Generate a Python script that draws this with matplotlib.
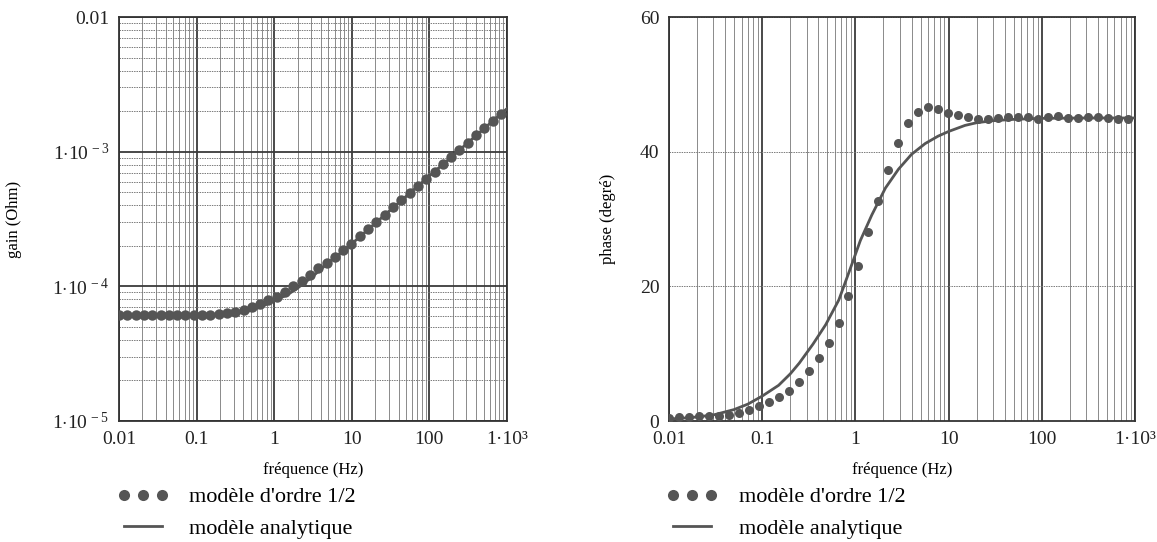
import numpy as np
import matplotlib
matplotlib.use("Agg")
import matplotlib.pyplot as plt
from matplotlib.ticker import FixedLocator, NullFormatter

plt.rcParams['font.family'] = ['Liberation Serif', 'DejaVu Serif']
plt.rcParams['mathtext.fontset'] = 'custom'
plt.rcParams['mathtext.rm'] = 'Liberation Serif'
plt.rcParams['mathtext.it'] = 'Liberation Serif'

# frequencies of the "ordre 1/2" points (Hz)
freq = [0.0100, 0.0128, 0.0164, 0.0209, 0.0268, 0.0343, 0.0439, 0.0561, 0.0718, 0.0918,
        0.1175, 0.150, 0.192, 0.246, 0.315, 0.403, 0.515, 0.659, 0.843, 1.079,
        1.380, 1.766, 2.259, 2.891, 3.698, 4.732, 6.053, 7.745, 9.908, 12.68,
        16.22, 20.75, 26.55, 33.96, 43.45, 55.59, 71.12, 90.99, 116.4, 148.9,
        190.5, 243.8, 311.9, 399.0, 510.5, 653.1, 835.6]

gain_pts = [6.1e-5, 6.1e-5, 6.1e-5, 6.1e-5, 6.1e-5, 6.1e-5, 6.1e-5, 6.1e-5, 6.1e-5, 6.1e-5,
            6.1e-5, 6.15e-5, 6.2e-5, 6.3e-5, 6.45e-5, 6.7e-5, 7.0e-5, 7.4e-5, 7.9e-5, 8.4e-5,
            9.1e-5, 1.0e-4, 1.1e-4, 1.21e-4, 1.36e-4, 1.5e-4, 1.66e-4, 1.86e-4, 2.07e-4, 2.35e-4,
            2.66e-4, 3.0e-4, 3.4e-4, 3.85e-4, 4.35e-4, 4.92e-4, 5.57e-4, 6.3e-4, 7.12e-4, 8.05e-4,
            9.1e-4, 1.03e-3, 1.165e-3, 1.32e-3, 1.49e-3, 1.69e-3, 1.91e-3]

phase_pts = [0.5, 0.6, 0.6, 0.7, 0.7, 0.8, 0.9, 1.2, 1.7, 2.2,
             2.8, 3.5, 4.5, 5.8, 7.4, 9.4, 11.6, 14.6, 18.5, 23.0,
             28.0, 32.6, 37.3, 41.3, 44.3, 45.9, 46.6, 46.4, 45.8, 45.4,
             45.1, 44.9, 44.9, 45.0, 45.1, 45.2, 45.1, 44.9, 45.2, 45.3,
             45.0, 45.0, 45.2, 45.2, 45.0, 44.9, 44.9]

# analytic model
gain_line_f = [0.01, 0.1, 0.3, 0.5, 0.7, 1, 1.5, 2, 3, 5, 10, 30, 100, 300, 1000]
gain_line = [6.0e-5, 6.0e-5, 6.2e-5, 6.6e-5, 7.1e-5, 7.8e-5, 8.7e-5, 9.7e-5, 1.16e-4,
             1.5e-4, 2.07e-4, 3.6e-4, 6.6e-4, 1.14e-3, 2.09e-3]

phase_line_f = [0.01, 0.015, 0.02, 0.03, 0.05, 0.07, 0.1, 0.15, 0.2, 0.25, 0.35, 0.48,
                0.665, 0.885, 1.13, 1.5, 2.1, 2.9, 4.0, 5.6, 7.7, 10, 15, 20, 30, 50,
                100, 300, 1000]
phase_line = [0.3, 0.45, 0.6, 0.9, 1.7, 2.5, 3.7, 5.3, 7.0, 8.6, 11.4, 14.3,
              18.0, 22.7, 26.8, 30.6, 34.6, 37.4, 39.6, 41.2, 42.3, 43.0, 43.9, 44.3, 44.6, 44.8,
              44.95, 45.0, 45.0]

xticks = [0.01, 0.1, 1, 10, 100, 1000]
xlabels = ['0.01', '0.1', '1', '10', '100', '1·10³']
gticks = [1e-5, 1e-4, 1e-3, 1e-2]
glabels = [r'1$\cdot$10$^{\,-5}$', r'1$\cdot$10$^{\,-4}$', r'1$\cdot$10$^{\,-3}$', '0.01']

col = '#555555'
W, H = 1157, 542
fig = plt.figure(figsize=(W / 100, H / 100), dpi=100)
ax1 = fig.add_axes([119 / W, 1 - 421 / H, 388 / W, 404 / H])
ax2 = fig.add_axes([669 / W, 1 - 421 / H, 466 / W, 404 / H])

minor_x = [m * 10.0 ** e for e in range(-2, 3) for m in range(2, 10)]

# ---- gain
ax1.set_xscale('log')
ax1.set_yscale('log')
ax1.set_xlim(0.01, 1000)
ax1.set_ylim(1e-5, 1e-2)
ax1.plot(gain_line_f, gain_line, color=col, lw=2, zorder=3)
ax1.plot(freq, gain_pts, 'o', color=col, ms=7.5, mec='none', zorder=4)
ax1.xaxis.set_major_locator(FixedLocator(xticks))
ax1.xaxis.set_minor_locator(FixedLocator(minor_x))
ax1.yaxis.set_major_locator(FixedLocator(gticks))
ax1.yaxis.set_minor_locator(FixedLocator([m * 10.0 ** e for e in range(-5, -2) for m in range(2, 10)]))
ax1.set_xticklabels(xlabels)
ax1.set_yticklabels(glabels)
ax1.xaxis.set_minor_formatter(NullFormatter())
ax1.yaxis.set_minor_formatter(NullFormatter())
ax1.grid(which='major', color='#3a3a3a', lw=1.3)
ax1.grid(which='minor', axis='x', color='#8a8a8a', lw=0.7)
ax1.grid(which='minor', axis='y', color='#7a7a7a', lw=0.7, ls=(0, (1.5, 1)))
ax1.set_xlabel('fréquence (Hz)', fontsize=12, labelpad=10)
ax1.set_ylabel('gain (Ohm)', fontsize=12, labelpad=22)

# ---- phase
ax2.set_xscale('log')
ax2.set_xlim(0.01, 1000)
ax2.set_ylim(0, 60)
ax2.plot(phase_line_f, phase_line, color=col, lw=2, zorder=3)
ax2.plot(freq, phase_pts, 'o', color=col, ms=6.5, mec='none', zorder=4)
ax2.xaxis.set_major_locator(FixedLocator(xticks))
ax2.xaxis.set_minor_locator(FixedLocator(minor_x))
ax2.set_xticklabels(xlabels)
ax2.xaxis.set_minor_formatter(NullFormatter())
ax2.set_yticks([0, 20, 40, 60])
ax2.grid(which='major', axis='x', color='#3a3a3a', lw=1.3)
ax2.grid(which='minor', axis='x', color='#8a8a8a', lw=0.7)
ax2.grid(which='major', axis='y', color='#7a7a7a', lw=0.7, ls=(0, (1.5, 1)))
ax2.set_xlabel('fréquence (Hz)', fontsize=12, labelpad=10)
ax2.set_ylabel('phase (degré)', fontsize=12, labelpad=17)

for ax in (ax1, ax2):
    ax.set_axisbelow(True)
    ax.tick_params(which='both', length=0, labelsize=14, colors='#222222', pad=7)
    for s in ax.spines.values():
        s.set_color('#333333')
        s.set_linewidth(1.3)
    ax.plot([], [], 'o', color=col, ms=8, mec='none', label="modèle d'ordre 1/2")
    ax.plot([], [], color=col, lw=2, label='modèle analytique')
    h, l = ax.get_legend_handles_labels()
    ax.legend(h[-2:], l[-2:], loc='upper left', bbox_to_anchor=(-0.005, -0.163),
              frameon=False, numpoints=3, handlelength=2.3, handletextpad=0.95,
              labelspacing=0.5, fontsize=16, borderaxespad=0, borderpad=0)

fig.savefig('out.png', dpi=100)
